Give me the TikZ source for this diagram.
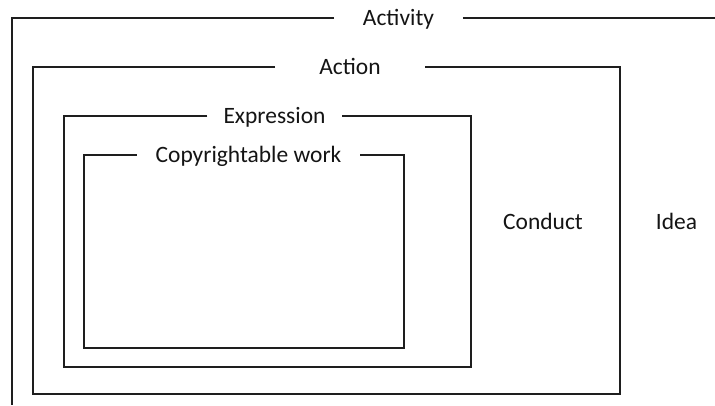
\documentclass[tikz,border=0pt]{standalone}
\usepackage{fontspec}
\setmainfont{Carlito}

\begin{document}
\begin{tikzpicture}[x=0.75pt,y=0.75pt,yscale=-1,xscale=1,
  lbl/.style={font=\fontsize{17.6}{20}\selectfont, text={rgb,255:red,20;green,20;blue,20}, text height=11.3pt, text depth=0pt, inner ysep=0pt},
  frame/.style={line width=1.1pt, draw={rgb,255:red,30;green,30;blue,30}}]
\useasboundingbox (0,0) rectangle (715,405);

% Text Node
\node [lbl, inner xsep=21.5pt] (activity) at (398.5,18) {Activity};
% Text Node
\node [lbl, inner xsep=33pt] (action) at (350,67) {Action};
% Text Node
\node [lbl, inner xsep=12pt] (expression) at (274.5,116) {Expression};
% Text Node
\node [lbl, inner xsep=14pt] (copywork) at (248.5,155) {Copyrightable work};
% Text Node
\node [lbl] (conduct) at (543,222) {Conduct};
% Text Node
\node [lbl] (idea) at (676.5,222) {Idea};

%Activity frame
\draw [frame] (activity.west) -- (12,18) -- (12,405) ;
\draw [frame] (activity.east) -- (715,18) ;
%Action frame
\draw [frame] (action.west) -- (33,67) -- (33,394) -- (620,394) -- (620,67) -- (action.east) ;
%Expression frame
\draw [frame] (expression.west) -- (64,116) -- (64,367) -- (471,367) -- (471,116) -- (expression.east) ;
%Copyrightable work frame
\draw [frame] (copywork.west) -- (84,155) -- (84,348) -- (404,348) -- (404,155) -- (copywork.east) ;
\end{tikzpicture}
\end{document}
